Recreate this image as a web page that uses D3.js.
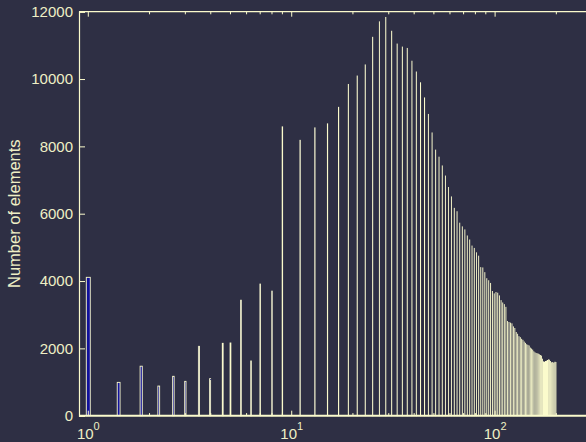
<!DOCTYPE html>
<html>
<head>
<meta charset="utf-8">
<script src="https://cdn.jsdelivr.net/npm/d3@7"></script>
<style>
  html, body { margin: 0; padding: 0; background: #2e2f44; }
  svg { display: block; }
  text { font-family: "Liberation Sans", Arial, Helvetica, sans-serif; }
</style>
</head>
<body>
<svg id="chart" width="586" height="442"></svg>
<script>
// ---- data ----
const binCenters = [
  1, 1.41, 1.82, 2.22, 2.62, 3, 3.5, 3.97, 4.58, 5, 5.63, 6.31, 7, 8, 9,
  11, 13, 15, 17, 19, 21, 23, 25, 27, 29, 31, 33, 35, 37, 39, 41, 43, 45, 47, 49,
  51, 53, 55, 57, 59, 61, 63, 65, 67, 69, 71, 73, 75, 77, 79, 81, 83, 85, 87, 89,
  91, 93, 95, 97, 99, 101, 103, 105, 107, 109, 111, 113, 115, 117, 119, 121, 123, 125,
  127, 129, 131, 133, 135, 137, 139, 141, 143, 145, 147, 149, 151, 153, 155, 157, 159,
  161, 163, 165, 167, 169, 171, 173, 175, 177, 179, 181, 183, 185, 187, 189, 191, 193,
  195, 197, 199
];
const counts = [
  4110, 990, 1470, 880, 1170, 1020, 2060, 1100, 2150, 2160, 3430, 1625, 3910, 3700, 8580,
  8180, 8550, 8670, 9160, 9840, 10090, 10420, 11240, 11700, 11830, 11420, 11040, 10950, 10910, 10530, 10210, 9890, 9440, 8950, 8400,
  7890, 7680, 7420, 7120, 6780, 6500, 6160, 6060, 5720, 5610, 5520, 5340, 5220, 5040, 4970, 4840, 4740, 4400, 4390, 4250,
  4070, 4010, 3930, 3690, 3620, 3660, 3640, 3560, 3420, 3350, 3300, 3220, 2800, 2770, 2750, 2730, 2640, 2590,
  2470, 2420, 2350, 2320, 2270, 2240, 2190, 2150, 2110, 2090, 2070, 2010, 1980, 1950, 1900, 1870, 1850,
  1840, 1830, 1810, 1790, 1770, 1680, 1600, 1590, 1610, 1620, 1640, 1660, 1650, 1610, 1570, 1580, 1560,
  1570, 1590, 1580
];
const yTickValues = [0, 2000, 4000, 6000, 8000, 10000, 12000];
const xMajorTicks = [1, 10, 100];
const xMajorExponents = ["0", "1", "2"];
const xMinorTicks = [2, 3, 4, 5, 6, 7, 8, 9, 20, 30, 40, 50, 60, 70, 80, 90, 200, 300];
const yLabel = "Number of elements";

// ---- drawing ----
const bg = "#2e2f44";
const fg = "#fbfbcc";
const textCol = "#efefc6";
const barFill = "#10109c";
const barWidthData = 0.045;

const svg = d3.select("#chart");
svg.append("rect").attr("width", 586).attr("height", 442).attr("fill", bg);

const plot = { left: 79, top: 11.7, bottom: 415.7 };
const x = d3.scaleLog().domain([0.9, 316.23]).range([plot.left, 79 + 203.4 * Math.log10(316.23 / 0.9)]);
const y = d3.scaleLinear().domain([0, 12000]).range([plot.bottom, plot.top]);
const xRight = x.range()[1];

// bars
const bars = binCenters.map((c, i) => ({ c, v: counts[i] }));
svg.append("g").selectAll("rect").data(bars).join("rect")
  .attr("x", d => x(d.c - barWidthData / 2))
  .attr("width", d => Math.max(0.05, x(d.c + barWidthData / 2) - x(d.c - barWidthData / 2)))
  .attr("y", d => y(d.v))
  .attr("height", d => y(0) - y(d.v))
  .attr("fill", barFill)
  .attr("stroke", fg)
  .attr("stroke-width", 0.9);

// box lines
svg.append("line").attr("x1", plot.left).attr("x2", xRight).attr("y1", plot.top).attr("y2", plot.top)
  .attr("stroke", fg).attr("stroke-width", 1.2);
svg.append("line").attr("x1", plot.left).attr("x2", xRight).attr("y1", plot.bottom).attr("y2", plot.bottom)
  .attr("stroke", fg).attr("stroke-width", 2);

// left axis
const yAxis = d3.axisLeft(y).tickValues(yTickValues).tickSize(-6).tickPadding(6).tickFormat(d3.format("d"));
const gy = svg.append("g").attr("transform", `translate(${plot.left},0)`).call(yAxis);
gy.select(".domain").attr("stroke", fg).attr("stroke-width", 1.2);
gy.selectAll(".tick line").attr("stroke", fg);
gy.selectAll(".tick text").attr("fill", textCol).attr("font-size", 15)
  .attr("font-family", "'Liberation Sans', Arial, sans-serif");

// x ticks (bottom pointing up, top pointing down)
const allTicks = xMajorTicks.map(v => ({ v, len: 5 })).concat(xMinorTicks.map(v => ({ v, len: 2.6 })));
const tickG = svg.append("g");
tickG.selectAll("line.b").data(allTicks).join("line").attr("class", "b")
  .attr("x1", d => x(d.v)).attr("x2", d => x(d.v))
  .attr("y1", plot.bottom).attr("y2", d => plot.bottom - d.len)
  .attr("stroke", fg).attr("stroke-width", 1);
tickG.selectAll("line.t").data(allTicks).join("line").attr("class", "t")
  .attr("x1", d => x(d.v)).attr("x2", d => x(d.v))
  .attr("y1", plot.top).attr("y2", d => plot.top + d.len)
  .attr("stroke", fg).attr("stroke-width", 1);

// x tick labels 10^k
const xl = svg.append("g").selectAll("text").data(xMajorTicks).join("text")
  .attr("x", d => x(d)).attr("y", 439)
  .attr("text-anchor", "middle")
  .attr("fill", textCol).attr("font-size", 15);
xl.append("tspan").text("10");
xl.append("tspan").attr("dy", -9).attr("font-size", 11).text((d, i) => xMajorExponents[i]);

// y label
svg.append("text")
  .attr("transform", `translate(20,${(plot.top + plot.bottom) / 2}) rotate(-90)`)
  .attr("text-anchor", "middle")
  .attr("fill", textCol).attr("font-size", 16.5)
  .text(yLabel);
</script>
</body>
</html>
